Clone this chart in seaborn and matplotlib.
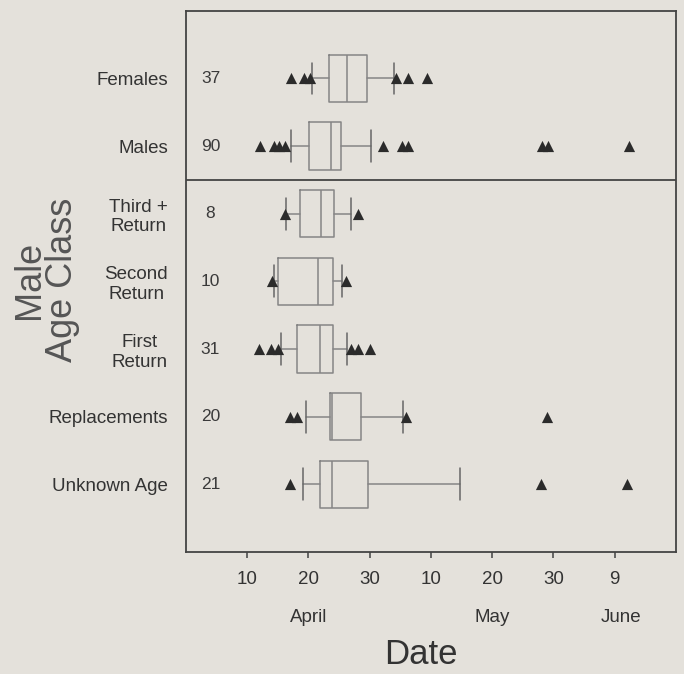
import matplotlib
matplotlib.use("Agg")
import matplotlib.pyplot as plt
import matplotlib.transforms as mtransforms
import pandas as pd
import seaborn as sns

# Values (days counted from 31 March: 10 = 10 April, 40 = 10 May)
groups = ["Females", "Males", "Third +\nReturn", "Second\nReturn",
          "First\nReturn", "Replacements", "Unknown Age"]
n_obs = [37, 90, 8, 10, 31, 20, 21]
q1 = [23.3, 20.1, 18.6, 15.0, 18.2, 23.5, 21.8]
med = [26.3, 23.7, 22.1, 21.5, 21.9, 23.8, 23.9]
q3 = [29.6, 25.3, 24.2, 24.0, 24.0, 28.5, 29.8]
whislo = [20.5, 17.2, 16.4, 14.4, 15.5, 19.6, 19.1]
whishi = [33.9, 30.2, 26.9, 25.5, 26.3, 35.5, 44.8]
outliers = [
    [17.2, 19.3, 20.2, 34.3, 36.3, 39.3],
    [12.1, 14.3, 15.2, 16.2, 32.2, 35.2, 36.3, 58.2, 59.2, 72.4],
    [16.2, 28.1],
    [14.0, 26.1],
    [11.9, 13.9, 15.0, 27.0, 28.1, 30.1],
    [17.0, 18.1, 36.0, 59.0],
    [16.9, 58.0, 72.0],
]
tick_days = [10, 20, 30, 40, 50, 60, 70]
tick_labels = ["10", "20", "30", "10", "20", "30", "9"]
months = ["April", "May", "June"]
month_days = [20, 50, 71]

bg = "#e4e1db"
sns.set_theme(style="ticks")
plt.rcParams["font.family"] = ["Liberation Sans", "DejaVu Sans"]
plt.rcParams["figure.facecolor"] = bg
plt.rcParams["axes.facecolor"] = bg

fig = plt.figure(figsize=(6.84, 6.74), dpi=100)
ax = fig.add_axes([0.272, 0.181, 0.716, 0.803])

stats = []
for i in range(len(groups)):
    stats.append(dict(q1=q1[i], med=med[i], q3=q3[i],
                      whislo=whislo[i], whishi=whishi[i], fliers=[]))

line_col = "#858585"
ax.bxp(stats, positions=range(len(groups)), widths=0.7, capwidths=0.47,
       orientation="horizontal", manage_ticks=False, showfliers=False,
       boxprops=dict(color=line_col, linewidth=1.1),
       whiskerprops=dict(color=line_col, linewidth=1.1),
       capprops=dict(color="#666666", linewidth=1.1),
       medianprops=dict(color=line_col, linewidth=1.1))

# outlying dates
out_df = pd.DataFrame(
    [(d, i) for i, vals in enumerate(outliers) for d in vals],
    columns=["day", "pos"])
sns.scatterplot(data=out_df, x="day", y="pos", marker="^", s=65,
                color="#2b2b2b", linewidth=0, ax=ax, zorder=3, legend=False)

# sample sizes
for i, n in enumerate(n_obs):
    ax.text(4, i, str(n), ha="center", va="center", fontsize=12.5, color="#3a3a3a")

ax.axhline(1.5, color="#444444", linewidth=1.3)

ax.set_xlim(0, 80)
ax.set_ylim(7, -1)
ax.set_xticks(tick_days)
ax.set_xticklabels(tick_labels, fontsize=13.5, color="#333333")
ax.tick_params(axis="x", direction="out", length=4, pad=10, color="#555555")
ax.set_yticks(range(len(groups)))
ax.set_yticklabels(groups, fontsize=13.5, color="#333333", multialignment="center")
ax.tick_params(axis="y", length=0, pad=13)
ax.set_xlabel("")
ax.set_ylabel("")
for sp in ax.spines.values():
    sp.set_visible(True)
    sp.set_color("#444444")
    sp.set_linewidth(1.3)

trans = mtransforms.blended_transform_factory(ax.transData, fig.transFigure)
for m, d in zip(months, month_days):
    ax.text(d, 1 - 617 / 674, m, transform=trans, ha="center", va="center",
            fontsize=13.5, color="#333333")

fig.text(421 / 684, 1 - 655 / 674, "Date", ha="center", va="center",
         fontsize=25, color="#333333")
fig.text(46 / 684, 1 - 280 / 674, "Male\nAge Class", ha="center", va="center",
         rotation=90, fontsize=26, color="#555555", linespacing=0.9,
         multialignment="center")

fig.savefig("out.png", dpi=100, facecolor=bg)
